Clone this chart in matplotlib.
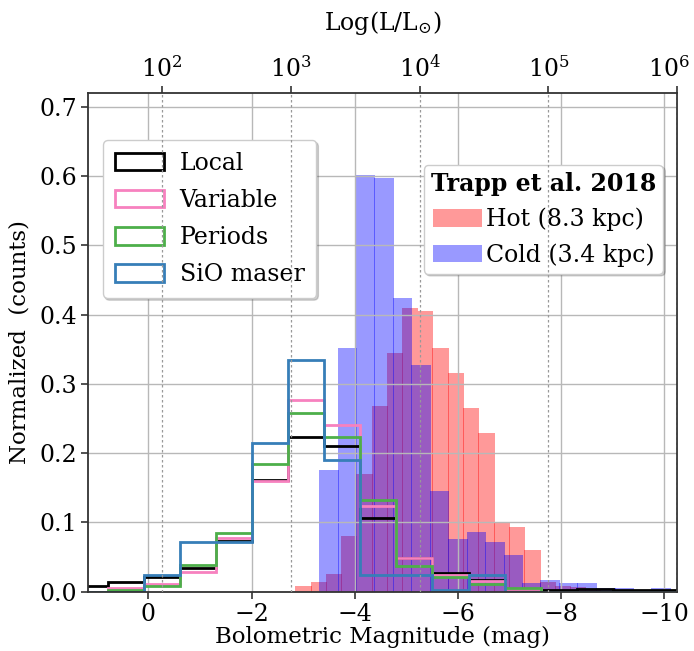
import matplotlib
matplotlib.use('Agg')
import matplotlib.pyplot as plt
import matplotlib.transforms as mtransforms
import numpy as np

plt.rcParams['font.family'] = ['DejaVu Serif']
plt.rcParams['mathtext.fontset'] = 'dejavuserif'

# step histograms (bolometric magnitude bins, 0.7 mag wide)
step_edges = [1.49, 0.79, 0.09, -0.61, -1.31, -2.01, -2.71, -3.41, -4.11,
              -4.81, -5.51, -6.21, -6.91, -7.61, -8.31, -9.01, -9.71, -10.41]
local_vals = [0.009, 0.014, 0.021, 0.035, 0.073, 0.162, 0.223, 0.211, 0.106,
              0.049, 0.027, 0.017, 0.004, 0.003, 0.004, 0.003, 0.003]
variable_vals = [0.0, 0.006, 0.011, 0.029, 0.077, 0.160, 0.277, 0.241, 0.124,
                 0.049, 0.024, 0.015, 0.004, 0.0, 0.0, 0.0, 0.0]
periods_vals = [0.0, 0.002, 0.009, 0.039, 0.085, 0.184, 0.258, 0.223, 0.133,
                0.0375, 0.022, 0.0115, 0.006, 0.0, 0.0, 0.0, 0.0]
sio_vals = [0.0, 0.0, 0.0245, 0.072, 0.072, 0.2145, 0.334, 0.190, 0.0245,
            0.0245, 0.002, 0.0245, 0.0, 0.0, 0.0, 0.0, 0.0]

# Trapp et al. 2018
hot_edges = [-2.85, -3.15, -3.44, -3.74, -4.03, -4.33, -4.63, -4.92, -5.22, -5.51,
             -5.81, -6.11, -6.40, -6.70, -6.99, -7.29, -7.59, -7.88, -8.18, -8.47, -8.77]
hot_vals = [0.008, 0.014, 0.025, 0.081, 0.170, 0.268, 0.345, 0.409, 0.405, 0.352,
            0.316, 0.265, 0.229, 0.100, 0.093, 0.061, 0.014, 0.009, 0.007, 0.003]
cold_edges = [-3.31, -3.67, -4.02, -4.38, -4.74, -5.10, -5.46, -5.81, -6.17, -6.53,
              -6.89, -7.25, -7.60, -7.96, -8.32, -8.68, -9.04, -9.39, -9.75, -10.11]
cold_vals = [0.176, 0.352, 0.602, 0.597, 0.424, 0.328, 0.146, 0.0765, 0.087, 0.072,
             0.053, 0.0125, 0.017, 0.0125, 0.0125, 0.005, 0.005, 0.002, 0.005]

lum_exps = [2, 3, 4, 5, 6]
M_SUN = 4.74
FS = 17

fig = plt.figure(figsize=(6.94, 6.51), dpi=100)
ax = fig.add_axes([0.127, 0.091, 0.849, 0.766])

# filled histograms (slight overlap gives the darker seams)
he = np.array(hot_edges)
ax.bar(he[:-1], hot_vals, width=np.diff(he) * 1.06, align='edge',
       color='red', alpha=0.4, lw=0, label='Hot (8.3 kpc)')
ce = np.array(cold_edges)
ax.bar(ce[:-1], cold_vals, width=np.diff(ce) * 1.06, align='edge',
       color='blue', alpha=0.4, lw=0, label='Cold (3.4 kpc)')

se = np.array(step_edges)
centers = (se[:-1] + se[1:]) / 2
h1 = []
for vals, col, lab in [(local_vals, 'black', 'Local'),
                       (variable_vals, '#f781bf', 'Variable'),
                       (periods_vals, '#4daf4a', 'Periods'),
                       (sio_vals, '#377eb8', 'SiO maser')]:
    _, _, p = ax.hist(centers, bins=se[::-1], weights=vals, histtype='step',
                      color=col, lw=2.0, label=lab)
    h1.append(p[0])

ax.set_xlim(1.17, -10.26)
ax.set_ylim(0, 0.72)
ax.set_xticks([0, -2, -4, -6, -8, -10])
ax.set_xticklabels(['0', '−2', '−4', '−6', '−8', '−10'])
ax.set_yticks(np.arange(0, 0.71, 0.1))
ax.set_yticklabels(['%.1f' % v for v in np.arange(0, 0.71, 0.1)])
ax.tick_params(labelsize=FS, length=5, width=1.2, color='#333333', pad=3)
ax.grid(True, color='#b8b8b8', lw=1)
for s in ax.spines.values():
    s.set_color('#333333')
    s.set_linewidth(1.3)
ax.set_xlabel('Bolometric Magnitude (mag)', fontsize=16.5, labelpad=0)
ax.set_ylabel('Normalized  (counts)', fontsize=16.5, labelpad=6)

# luminosity axis on top
ax2 = ax.twiny()
ax2.set_xlim(ax.get_xlim())
ax2.set_xticks([M_SUN - 2.5 * k for k in lum_exps])
ax2.set_xticklabels(['$10^{%d}$' % k for k in lum_exps])
ax2.tick_params(labelsize=FS, length=5, width=1.2, color='#333333', pad=3)
ax2.grid(True, axis='x', color='#999999', lw=0.9, ls=(0, (2, 2)))
for s in ax2.spines.values():
    s.set_visible(False)
ax2.set_xlabel(r'Log(L/L$_{\odot}$)', fontsize=FS, labelpad=18)
last = ax2.get_xticklabels()[-1]
last.set_transform(last.get_transform() +
                   mtransforms.ScaledTranslation(-8 / 100, 0, fig.dpi_scale_trans))

shadow = {'ox': 1.5, 'oy': -1.5, 'alpha': 0.25}
leg1 = ax.legend(handles=h1, loc='upper left', bbox_to_anchor=(0.025, 0.906),
                 borderaxespad=0, fontsize=FS, handlelength=2.1,
                 handleheight=0.75, borderpad=0.5, labelspacing=0.6,
                 handletextpad=0.65, framealpha=1, edgecolor='#cccccc',
                 shadow=shadow)
ax.add_artist(leg1)
bars = [c for c in ax.containers]
leg2 = ax.legend(handles=bars, loc='upper right', bbox_to_anchor=(0.976, 0.856),
                 borderaxespad=0, fontsize=FS, title='Trapp et al. 2018',
                 title_fontproperties={'weight': 'bold', 'size': FS},
                 handlelength=2.1, handleheight=0.75, borderpad=0.3,
                 labelspacing=0.5, handletextpad=0.15, framealpha=1,
                 edgecolor='#cccccc', shadow=shadow)

fig.savefig('out.png', dpi=100)
